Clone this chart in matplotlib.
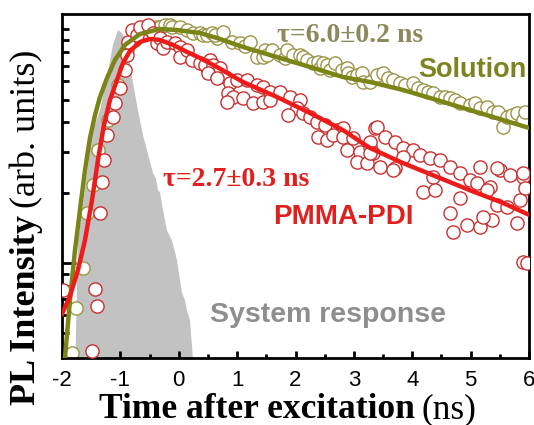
import matplotlib
matplotlib.use("Agg")
import matplotlib.pyplot as plt
from matplotlib.ticker import FixedLocator, NullFormatter

plt.rcParams['axes.unicode_minus'] = False

# system response (instrument function)
irf_t = [-1.78, -1.726, -1.658, -1.486, -1.349, -1.229, -1.127, -1.041, -0.973,
         -0.887, -0.801, -0.699, -0.613, -0.442, -0.39, -0.356, -0.32, -0.271,
         -0.202, -0.116, -0.031, 0.055, 0.10, 0.14, 0.192, 0.243, 0.26]
irf_i = [0.3, 1.25, 1.64, 3.60, 4.52, 6.26, 8.59, 9.95, 9.66,
         8.75, 6.26, 4.52, 3.53, 2.43, 2.30, 2.05, 2.00, 1.69,
         1.38, 1.25, 1.03, 0.744, 0.70, 0.63, 0.570, 0.392, 0.3]

# PDI in solution
sol_t = [-1.829, -1.760, -1.640, -1.572, -1.469, -1.384, -1.212, -1.041, -0.887,
         -0.750, -0.579, -0.493, -0.459, -0.373, -0.322, -0.236, -0.151, -0.116,
         0.021, 0.140, 0.243, 0.363, 0.414, 0.483, 0.568, 0.654, 0.620, 0.757,
         0.911, 1.048, 1.134, 1.219, 1.339, 1.442, 1.476, 1.510, 1.596, 1.733,
         1.818, 1.853, 1.955, 2.075, 2.127, 2.195, 2.298, 2.384, 2.418, 2.469,
         2.538, 2.589, 2.675, 2.795, 2.880, 2.897, 2.966, 3.051, 3.137, 3.154,
         3.274, 3.394, 3.497, 3.582, 3.668, 3.788, 3.873, 4.010, 4.096, 4.182,
         4.267, 4.353, 4.473, 4.558, 4.644, 4.729, 4.815, 4.986, 5.072, 5.158,
         5.277, 5.380, 5.466, 5.551, 5.620, 5.705, 5.791, 5.894, 5.928]
sol_i = [0.41, 0.64, 0.95, 1.64, 2.16, 3.05, 4.10, 5.78, 8.17,
         9.02, 9.75, 9.95, 9.95, 10.25, 10.25, 10.45, 10.45, 10.25,
         10.25, 9.95, 9.66, 9.66, 9.46, 9.46, 9.66, 9.20, 9.46, 9.75,
         8.84, 8.75, 8.50, 8.84, 7.62, 7.62, 8.17, 7.78, 8.17, 7.78,
         7.55, 8.17, 7.78, 7.78, 7.62, 7.40, 7.19, 7.26, 6.84, 7.19,
         7.05, 6.71, 7.19, 6.71, 6.84, 6.51, 6.26, 6.38, 6.51, 5.96,
         5.96, 6.38, 6.51, 6.20, 6.08, 5.90, 5.78, 5.90, 5.61, 5.51,
         5.40, 5.35, 5.14, 5.14, 5.09, 4.99, 4.84, 4.75, 4.84, 4.61,
         4.66, 4.43, 4.43, 3.82, 4.22, 4.30, 4.39, 4.10, 4.43]

# PDI in PMMA film
film_t = [-1.983, -1.486, -1.435, -1.401, -1.349, -1.315, -1.281, -1.229, -1.127,
          -1.092, -1.007, -0.921, -0.887, -0.870, -0.801, -0.716, -0.664, -0.527,
          -0.442, -0.373, -0.322, -0.271, -0.202, -0.065, 0.021, 0.021, 0.140,
          0.226, 0.363, 0.483, 0.534, 0.586, 0.654, 0.449, 0.586, 0.705, 0.500,
          0.791, 0.654, 0.877, 0.997, 1.168, 1.339, 1.442, 1.562, 1.733, 0.842,
          0.928, 1.099, 0.825, 1.271, 1.442, 1.562, 1.904, 2.075, 2.024, 2.127,
          1.870, 2.247, 2.366, 2.503, 2.709, 2.812, 2.384, 2.538, 2.640, 2.812,
          2.983, 2.880, 3.103, 3.274, 3.360, 3.274, 3.051, 3.223, 3.325, 3.394,
          3.531, 3.702, 3.839, 4.010, 4.130, 4.301, 4.473, 4.644, 4.815, 4.986,
          5.158, 5.500, 5.671, 5.894, 5.106, 5.329, 3.274, 3.445, 3.702, 3.668,
          3.839, 4.353, 4.182, 4.387, 5.449, 5.894, 4.815, 5.277, 4.644, 4.695,
          4.935, 5.158, 5.363, 5.209, 5.449, 5.620, 5.791, 5.842, 5.928, 5.894,
          5.96]
film_i = [0.766, 0.42, 0.774, 0.655, 1.64, 2.22, 2.76, 3.53, 4.22,
          4.84, 5.61, 6.71, 7.78, 8.84, 9.95, 9.46, 10.25, 10.45,
          9.66, 8.75, 9.20, 8.33, 8.84, 8.75, 8.41, 7.62, 8.17,
          7.40, 7.19, 6.84, 7.40, 6.51, 6.26, 7.05, 7.05, 6.84, 6.51,
          6.26, 6.20, 5.90, 6.08, 6.08, 5.78, 5.67, 5.40, 5.40, 5.35,
          5.14, 5.09, 4.89, 4.84, 4.89, 4.99, 5.14, 4.99, 4.61, 4.39,
          4.30, 4.22, 4.02, 3.90, 3.71, 3.79, 3.46, 3.36, 3.53, 3.46,
          3.43, 3.05, 2.99, 3.14, 3.79, 3.30, 2.71, 2.68, 2.96, 3.82,
          3.46, 3.30, 3.11, 3.05, 2.90, 2.82, 2.76, 2.58, 2.43, 2.27,
          2.58, 2.50, 2.38, 2.34, 2.20, 2.12, 2.96, 2.58, 2.55, 2.50,
          2.84, 2.34, 2.01, 2.05, 2.55, 2.43, 1.90, 2.05, 1.64, 1.36,
          1.45, 1.43, 1.53, 1.57, 1.77, 1.74, 1.48, 1.86, 2.10, 1.01,
          1.00]

# fitted curves (reconvolution fits)
sol_fit_t = [-1.949, -1.863, -1.777, -1.692, -1.606, -1.521, -1.435, -1.349, -1.229,
             -1.092, -0.921, -0.664, -0.322, -0.031, 0.363, 0.654, 1.099, 1.682,
             2.247, 2.812, 3.274, 3.839, 4.421, 4.986, 5.551, 5.997]
sol_fit_i = [0.392, 0.695, 1.137, 1.69, 2.50, 3.43, 4.30, 5.14, 6.20,
             7.40, 8.59, 9.57, 10.05, 9.95, 9.66, 9.20, 8.42, 7.62,
             6.91, 6.26, 5.96, 5.51, 4.99, 4.52, 4.10, 3.79]
film_fit_t = [-2.0, -1.863, -1.726, -1.606, -1.486, -1.384, -1.281, -1.178, -1.058,
              -0.955, -0.836, -0.664, -0.493, -0.322, -0.099, 0.140, 0.363, 0.654,
              1.099, 1.682, 2.247, 2.812, 3.274, 3.839, 4.421, 4.986, 5.551, 5.997]
film_fit_i = [0.605, 0.722, 0.933, 1.254, 1.86, 2.76, 3.90, 4.99, 6.08,
              7.19, 8.09, 8.84, 9.11, 9.02, 8.59, 8.02, 7.55, 6.91,
              5.96, 5.14, 4.39, 3.71, 3.11, 2.68, 2.34, 2.05, 1.81, 1.61]

fig = plt.figure(figsize=(5.34, 4.25), dpi=100)
ax = fig.add_axes([62 / 534, 1 - 358 / 425, (529 - 62) / 534, (358 - 14) / 425])

ax.fill_between(irf_t, irf_i, 0.01, color='#c2c2c2', lw=0, zorder=1)

ax.plot(sol_t, sol_i, 'o', ms=9.5, mfc='white', mec='#9a9548', mew=1.0, zorder=2)
ax.plot(film_t, film_i, 'o', ms=9.5, mfc='white', mec='#c8302f', mew=1.0, zorder=3)

ax.plot(sol_fit_t, sol_fit_i, color='#7b8416', lw=3.2, zorder=4)
ax.plot(film_fit_t, film_fit_i, color='#ee1b1b', lw=3.2, zorder=5)

ax.set_yscale('log')
ax.set_xlim(-2, 6)
ax.set_ylim(0.392, 11.65)

ax.xaxis.set_major_locator(FixedLocator(range(-2, 7)))
ax.xaxis.set_minor_locator(FixedLocator([v + 0.5 for v in range(-2, 6)]))
ax.yaxis.set_major_locator(FixedLocator([1.0]))
ax.yaxis.set_minor_locator(FixedLocator([0.4, 0.5, 0.6, 0.7, 0.8, 0.9,
                                         2, 3, 4, 5, 6, 7, 8, 9, 10]))
ax.yaxis.set_major_formatter(NullFormatter())
ax.yaxis.set_minor_formatter(NullFormatter())

ax.tick_params(axis='x', which='major', direction='in', length=5, width=2,
               pad=9, labelsize=16, top=False)
ax.tick_params(axis='x', which='minor', direction='in', length=3, width=2, top=False)
ax.tick_params(axis='y', which='major', direction='in', length=10, width=2, right=False)
ax.tick_params(axis='y', which='minor', direction='in', length=5, width=2, right=False)
for lab in ax.get_xticklabels():
    lab.set_fontfamily('Liberation Sans')

for sp in ax.spines.values():
    sp.set_linewidth(2)

serif = 'Liberation Serif'
sans = 'Liberation Sans'

ax.text(1.68, 9.47, 'τ=6.0±0.2 ns', family=serif, weight='bold', size=20,
        color='#8b8a5c', ha='left', va='center', zorder=6)
ax.text(5.96, 6.71, 'Solution', family=sans, weight='bold', size=19.5,
        color='#7b8420', ha='right', va='center', zorder=6)
ax.text(-0.27, 2.27, 'τ=2.7±0.3 ns', family=serif, weight='bold', size=20,
        color='#e0201e', ha='left', va='center', zorder=6)
ax.text(1.613, 1.574, 'PMMA-PDI', family=sans, weight='bold', size=20,
        color='#e0201e', ha='left', va='center', zorder=6)
ax.text(0.534, 0.60, 'System response', family=sans, weight='bold', size=20.5,
        color='#8e8e8e', ha='left', va='center', zorder=6)

# axis titles: bold quantity followed by plain unit
fig.canvas.draw()
rend = fig.canvas.get_renderer()
W, H = fig.bbox.width, fig.bbox.height

xt = fig.text(99 / W, 1 - 418 / H, 'Time after excitation', family=serif,
              weight='bold', size=25.5, ha='left', va='baseline')
bb = xt.get_window_extent(rend)
fig.text((bb.x1 + 7) / W, 1 - 418 / H, '(ns)', family=serif, size=25.5,
         ha='left', va='baseline')

yt = fig.text(27 / W, 1 - 405 / H, 'PL Intensity', family=serif, weight='bold',
              size=26, rotation=90, ha='center', va='bottom')
bb = yt.get_window_extent(rend)
fig.text(27 / W, (bb.y1 + 7) / H, '(arb. units)', family=serif, size=26,
         rotation=90, ha='center', va='bottom')

fig.savefig('out.png', dpi=100)
